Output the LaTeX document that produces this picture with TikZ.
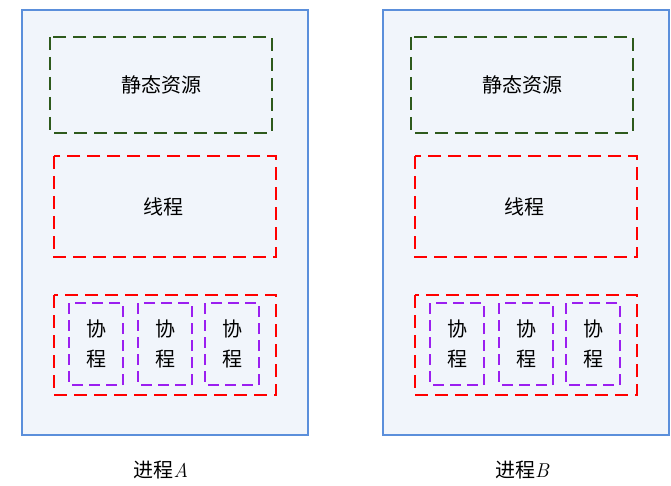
\documentclass[tikz,border=0pt]{standalone}
\usepackage{fontspec}
\newfontfamily\cjk{Noto Sans CJK SC}
\definecolor{panelfill}{HTML}{F1F5FB}
\definecolor{panelline}{HTML}{5B8FDB}
\definecolor{resgreen}{HTML}{2E5A1C}
\definecolor{coviolet}{HTML}{9B1EF0}
\tikzset{
  panel/.style={draw=panelline,fill=panelfill,line width=1.4pt},
  resbox/.style={draw=resgreen,dash pattern=on 13pt off 7pt,line width=2.4pt},
  thbox/.style={draw=red,dash pattern=on 13pt off 7pt,line width=2.4pt},
  cobox/.style={draw=coviolet,dash pattern=on 11pt off 6pt,line width=2.4pt},
  lbl/.style={font=\cjk\fontsize{20}{24}\selectfont}
}
\begin{document}
\begin{tikzpicture}[x=1pt,y=-1pt]
  \useasboundingbox (0,0) rectangle (671,486);
  % zwei Prozesse, Versatz 361
  \foreach \d/\p in {0/A,361/B}{
    \begin{scope}[xshift=\d pt]
      \draw[panel] (22,10) rectangle (308,435);
      \draw[resbox] (50,37) rectangle (272,133);
      \node[lbl] (res\p) at (161,85) {静态资源};
      \draw[thbox] (54,156) rectangle (276,257);
      \node[lbl] (th\p) at (163,207) {线程};
      \draw[thbox] (54,295) rectangle (276,395);
      % Koroutinen
      \foreach \a/\i in {69/1,138/2,205/3}{
        \draw[cobox] (\a,303) rectangle (\a+54,385);
        \node[lbl,align=center] (co\p\i) at (\a+27,344) {协\\[6pt]程};
      }
      \node[lbl] (name\p) at (161,470) {进程$\mathit{\p}$};
    \end{scope}
  }
\end{tikzpicture}
\end{document}
